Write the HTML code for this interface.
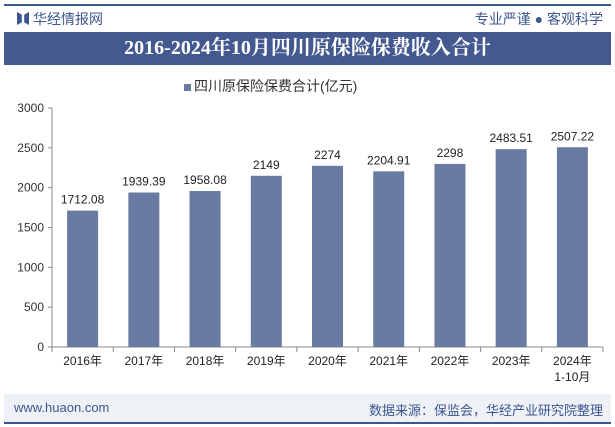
<!DOCTYPE html>
<html><head><meta charset="utf-8"><style>
body{margin:0;width:615px;height:427px;background:#fff;font-family:"Liberation Sans","Noto Sans CJK SC",sans-serif;position:relative;overflow:hidden}
.abs{position:absolute}
</style></head><body>
<div class="abs" style="left:4px;top:4px;width:607px;height:2px;background:#3d5590"></div>
<div class="abs" style="left:17px;top:12px;width:12px;height:13px;background:#3d5590;clip-path:polygon(0 0,40% 20%,40% 80%,0 100%,0 0,100% 0,100% 100%,60% 80%,60% 20%,100% 0)"></div>
<div class="abs" style="left:33px;top:9px;font-size:14px;color:#3d5590">华经情报网</div>
<div class="abs" style="right:12px;top:9px;font-size:14px;color:#3d5590">专业严谨 ● 客观科学</div>
<div class="abs" style="left:4px;top:32px;width:607px;height:33px;background:#44598f;color:#fff;font:bold 20px 'Liberation Serif','Noto Serif CJK SC',serif;text-align:center;line-height:33px">2016-2024年10月四川原保险保费收入合计</div>
<div class="abs" style="left:184px;top:76px;font-size:14px;color:#333"><span style="display:inline-block;width:7px;height:7px;background:#6a7ba3;margin-right:3px;vertical-align:middle"></span>四川原保险保费合计(亿元)</div>
<svg class="abs" style="left:0;top:0" width="615" height="427" id="chart"></svg>
<div class="abs" style="left:4px;top:394px;width:607px;height:28px;background:#eef1f6"></div>
<div class="abs" style="left:14px;top:400px;font-size:13px;color:#3d5590">www.huaon.com</div>
<div class="abs" style="right:12px;top:400px;font-size:13px;color:#3d5590">数据来源：保监会，华经产业研究院整理</div>
<div class="abs" style="left:4px;top:422px;width:607px;height:2px;background:#3d5590"></div>
<script>
const categories=["2016年","2017年","2018年","2019年","2020年","2021年","2022年","2023年","2024年|1-10月"];
const values=[1712.08,1939.39,1958.08,2149,2274,2204.91,2298,2483.51,2507.22];
const valueLabels=["1712.08","1939.39","1958.08","2149","2274","2204.91","2298","2483.51","2507.22"];
const yTicks=[0,500,1000,1500,2000,2500,3000];
const svg=document.getElementById('chart');const NS="http://www.w3.org/2000/svg";
const x0=52,x1=603,y0=347,y1=108,yMax=3000;
const bw=(x1-x0)/categories.length;
const yS=v=>y0-(v/yMax)*(y0-y1);
function mk(t,a,txt){const e=document.createElementNS(NS,t);for(const k in a)e.setAttribute(k,a[k]);if(txt!=null)e.textContent=txt;svg.appendChild(e);return e;}
yTicks.forEach(t=>{const e=mk('text',{x:x0-8,y:yS(t)+4,'text-anchor':'end','font-size':12,fill:'#333'},t);


mk('line',{x1:x0-4,x2:x0,y1:yS(t),y2:yS(t),stroke:'#888'});});
mk('line',{x1:x0,x2:x0,y1:y1,y2:y0,stroke:'#888'});
mk('line',{x1:x0,x2:x1,y1:y0,y2:y0,stroke:'#888'});
categories.forEach((c,i)=>{const cx=x0+bw*(i+0.5);
const r=mk('rect',{x:cx-15.5,y:yS(values[i]),width:31,height:y0-yS(values[i]),fill:'#6a7ba3'});


const v=mk('text',{x:cx,y:yS(values[i])-7,'text-anchor':'middle','font-size':12,fill:'#222'},valueLabels[i]);


mk('line',{x1:x0+bw*(i+1),x2:x0+bw*(i+1),y1:y0,y2:y0+5,stroke:'#888'});
c.split('|').forEach((p,j)=>{const l=mk('text',{x:cx,y:y0+18+j*16,'text-anchor':'middle','font-size':12,fill:'#222'},p);

});});
mk('line',{x1:x0,x2:x0,y1:y0,y2:y0+5,stroke:'#888'});
</script>
</body></html>
